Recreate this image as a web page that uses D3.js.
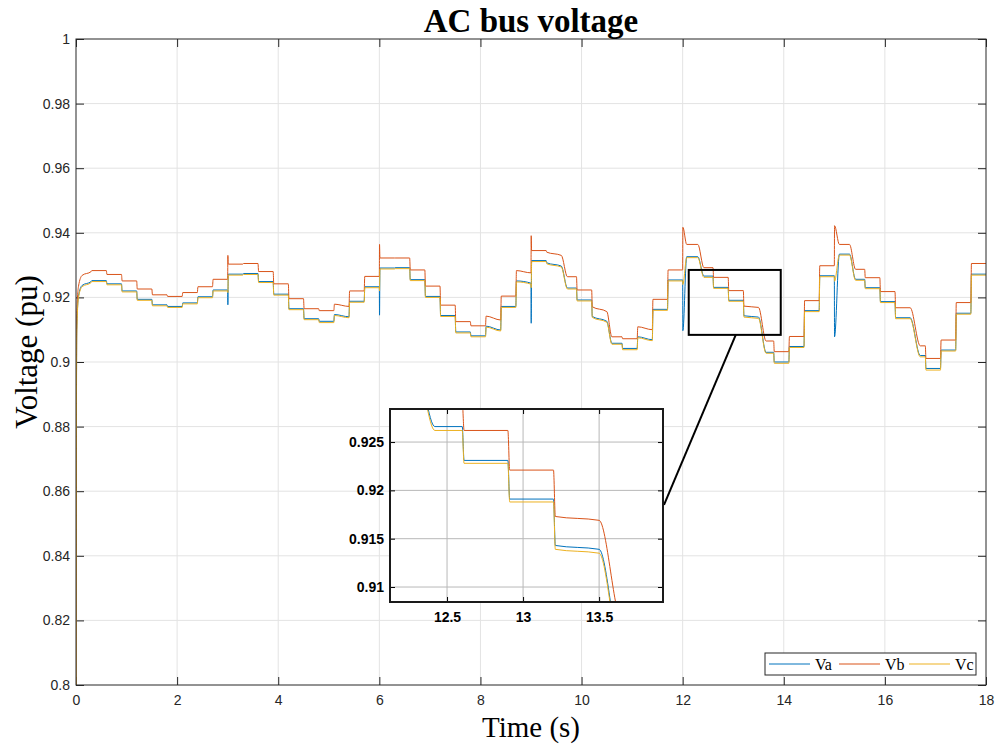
<!DOCTYPE html>
<html lang="en">
  <head>
    <meta charset="UTF-8" />
    <title>AC bus voltage</title>
    <script src="https://d3js.org/d3.v7.min.js"></script>
    <style>
      body {
        margin: 0;
        background: #fff;
      }
      .tick text {
        font-family: "Liberation Sans", Arial, sans-serif;
        font-size: 14px;
        fill: #262626;
      }
      .inset .tick text {
        font-weight: bold;
        fill: #000;
        font-size: 14px;
      }
      .serif {
        font-family: "Liberation Serif", "Times New Roman", serif;
        fill: #000;
      }
    </style>
  </head>
  <body>
    <script>
      // switching instants (s), one step every 0.3 s
      const stepT = [
        0, 0.3, 0.6, 0.9, 1.2, 1.5, 1.8, 2.1, 2.4, 2.7,
        3, 3.3, 3.6, 3.9, 4.2, 4.5, 4.8, 5.1, 5.4, 5.7,
        6, 6.3, 6.6, 6.9, 7.2, 7.5, 7.8, 8.1, 8.4, 8.7,
        9, 9.3, 9.6, 9.9, 10.2, 10.5, 10.8, 11.1, 11.4, 11.7,
        12, 12.3, 12.6, 12.9, 13.2, 13.5, 13.8, 14.1, 14.4, 14.7,
        15, 15.3, 15.6, 15.9, 16.2, 16.5, 16.8, 17.1, 17.4, 17.7,
      ];

      // settled level of each phase at the end of every step (pu)
      const vaLevel = [
        0.9249, 0.9252, 0.9242, 0.922, 0.9194, 0.9177, 0.9172, 0.9183, 0.9202, 0.9223,
        0.9272, 0.9274, 0.9249, 0.921, 0.9165, 0.9134, 0.9126, 0.914, 0.9188, 0.9233,
        0.9291, 0.9292, 0.9255, 0.9203, 0.9144, 0.9093, 0.9081, 0.9099, 0.9172, 0.9244,
        0.9314, 0.9297, 0.9229, 0.9192, 0.9126, 0.9058, 0.9042, 0.9069, 0.9163, 0.9254,
        0.9326, 0.9266, 0.9231, 0.9191, 0.9139, 0.903, 0.9, 0.9048, 0.9159, 0.9267,
        0.9334, 0.9256, 0.923, 0.9187, 0.9137, 0.902, 0.898, 0.9037, 0.9151, 0.9272,
      ];
      const vbLevel = [
        0.928, 0.9283, 0.9271, 0.9251, 0.9226, 0.9208, 0.9203, 0.9215, 0.9233, 0.9256,
        0.9303, 0.9305, 0.928, 0.9242, 0.9196, 0.9165, 0.9159, 0.9172, 0.922, 0.9265,
        0.9322, 0.9322, 0.9285, 0.9235, 0.9176, 0.9125, 0.9112, 0.913, 0.9204, 0.9276,
        0.9345, 0.933, 0.9264, 0.9223, 0.9156, 0.9078, 0.9072, 0.91, 0.9194, 0.9285,
        0.9364, 0.9292, 0.9262, 0.9221, 0.9169, 0.9065, 0.9032, 0.9079, 0.919, 0.9298,
        0.9364, 0.9287, 0.9261, 0.9218, 0.9168, 0.905, 0.9011, 0.9068, 0.9184, 0.9305,
      ];
      const vcLevel = [
        0.9246, 0.9249, 0.9239, 0.9217, 0.9191, 0.9174, 0.9169, 0.918, 0.9199, 0.922,
        0.9269, 0.9271, 0.9246, 0.9207, 0.9162, 0.9131, 0.9122, 0.9137, 0.9185, 0.923,
        0.9288, 0.9289, 0.9252, 0.92, 0.9141, 0.909, 0.9078, 0.9096, 0.9169, 0.9241,
        0.9311, 0.9294, 0.9226, 0.9189, 0.9123, 0.9055, 0.9038, 0.9066, 0.916, 0.9251,
        0.9323, 0.9262, 0.9228, 0.9188, 0.9135, 0.9027, 0.8996, 0.9045, 0.9156, 0.9264,
        0.9331, 0.9253, 0.9227, 0.9184, 0.9134, 0.9016, 0.8975, 0.9034, 0.9148, 0.9269,
      ];

      // droop inside a step (how much higher the step starts than it ends)
      const drift = [
        0, 0, 0, 0, 0, 0, 0, 0, 0, 0,
        0, 0, 0, 0, 0, 0, 0, 0.0007, 0, 0,
        0, 0, 0, 0, 0, 0, 0, 0.0012, 0, 0.0007,
        0, 0.001, 0, 0, 0.0015, 0, 0, 0.0009, 0, 0,
        0, 0, 0, 0, 0.0004, 0, 0, 0, 0, 0,
        0, 0, 0, 0, 0, 0, 0, 0, 0, 0,
      ];
      // time the voltage needs to reach the new step (s)
      const settle = [
        0.012, 0.012, 0.012, 0.012, 0.012, 0.012, 0.012, 0.012, 0.012, 0.012,
        0.012, 0.012, 0.012, 0.012, 0.012, 0.012, 0.012, 0.012, 0.012, 0.012,
        0.012, 0.012, 0.012, 0.012, 0.012, 0.012, 0.012, 0.012, 0.012, 0.012,
        0.012, 0.012, 0.12, 0.012, 0.012, 0.1, 0.012, 0.012, 0.012, 0.012,
        0.08, 0.12, 0.012, 0.012, 0.012, 0.15, 0.012, 0.012, 0.012, 0.012,
        0.1, 0.12, 0.012, 0.012, 0.012, 0.2, 0.012, 0.012, 0.012, 0.012,
      ];

      // switching spikes every 3 s
      const spikeStep = [10, 20, 30, 40, 50];
      const vaSpike = [0.9177, 0.9145, 0.912, 0.9097, 0.9078];
      const vbSpike = [0.933, 0.9364, 0.9391, 0.9417, 0.9422];
      const vcSpike = [0.9215, 0.922, 0.923, 0.924, 0.925];

      // start-up transient [t, pu]
      const vaRise = [[0, 0.8], [0.015, 0.91], [0.05, 0.9205], [0.12, 0.9237], [0.3, 0.9249]];
      const vbRise = [[0, 0.8], [0.015, 0.915], [0.05, 0.9235], [0.12, 0.9268], [0.3, 0.928]];
      const vcRise = [[0, 0.8], [0.015, 0.909], [0.05, 0.92], [0.12, 0.9233], [0.3, 0.9246]];

      const xTicks = [0, 2, 4, 6, 8, 10, 12, 14, 16, 18];
      const yTicks = [0.8, 0.82, 0.84, 0.86, 0.88, 0.9, 0.92, 0.94, 0.96, 0.98, 1];
      const insetXTicks = [12.5, 13, 13.5];
      const insetYTicks = [0.91, 0.915, 0.92, 0.925];
      const zoomWindow = { t: [12.12, 13.94], v: [0.9084, 0.9285] };

      const series = [
        { name: "Va", color: "#0072BD", level: vaLevel, spike: vaSpike, rise: vaRise },
        { name: "Vb", color: "#D95319", level: vbLevel, spike: vbSpike, rise: vbRise },
        { name: "Vc", color: "#EDB120", level: vcLevel, spike: vcSpike, rise: vcRise },
      ];

      function buildPoints(s) {
        const pts = s.rise.slice();
        for (let i = 1; i < stepT.length; i++) {
          const t = stepT[i];
          const tEnd = i < stepT.length - 1 ? stepT[i + 1] : 18;
          const k = spikeStep.indexOf(i);
          if (k >= 0) pts.push([t + 0.004, s.spike[k]]);
          pts.push([t + settle[i], s.level[i] + drift[i]]);
          pts.push([tEnd, s.level[i]]);
        }
        return pts;
      }
      series.forEach((s) => (s.points = buildPoints(s)));

      const width = 997,
        height = 744;
      const plot = { left: 76, top: 39, right: 986, bottom: 685 };

      const svg = d3
        .select("body")
        .append("svg")
        .attr("width", width)
        .attr("height", height)
        .style("display", "block");

      const x = d3.scaleLinear().domain([0, 18]).range([plot.left, plot.right]);
      const y = d3.scaleLinear().domain([0.8, 1]).range([plot.bottom, plot.top]);

      svg.append("defs")
        .append("clipPath")
        .attr("id", "clipMain")
        .append("rect")
        .attr("x", plot.left)
        .attr("y", plot.top)
        .attr("width", plot.right - plot.left)
        .attr("height", plot.bottom - plot.top);

      // grid
      const grid = svg.append("g").attr("stroke", "#e3e3e3").attr("stroke-width", 1);
      grid.selectAll(".gx")
        .data(xTicks.slice(1, -1))
        .enter()
        .append("line")
        .attr("x1", (d) => x(d))
        .attr("x2", (d) => x(d))
        .attr("y1", plot.top)
        .attr("y2", plot.bottom);
      grid.selectAll(".gy")
        .data(yTicks.slice(1, -1))
        .enter()
        .append("line")
        .attr("x1", plot.left)
        .attr("x2", plot.right)
        .attr("y1", (d) => y(d))
        .attr("y2", (d) => y(d));

      // axes with inward ticks
      const fmtY = (d) => String(+d.toFixed(3));
      function styleAxis(g) {
        g.select(".domain").remove();
        g.attr("font-size", 14).attr("font-family", "Liberation Sans, Arial, sans-serif");
        g.selectAll(".tick line").attr("stroke", "#262626");
      }
      svg.append("g")
        .attr("transform", `translate(0,${plot.bottom})`)
        .call(d3.axisBottom(x).tickValues(xTicks).tickSize(-8).tickPadding(10).tickFormat(fmtY))
        .call(styleAxis);
      svg.append("g")
        .attr("transform", `translate(0,${plot.top})`)
        .call(d3.axisTop(x).tickValues(xTicks).tickSize(-8).tickFormat(""))
        .call(styleAxis);
      svg.append("g")
        .attr("transform", `translate(${plot.left},0)`)
        .call(d3.axisLeft(y).tickValues(yTicks).tickSize(-8).tickPadding(6).tickFormat(fmtY))
        .call(styleAxis);
      svg.append("g")
        .attr("transform", `translate(${plot.right},0)`)
        .call(d3.axisRight(y).tickValues(yTicks).tickSize(-8).tickFormat(""))
        .call(styleAxis);

      // lines
      const line = d3
        .line()
        .x((d) => x(d[0]))
        .y((d) => y(d[1]))
        .curve(d3.curveMonotoneX);
      svg.append("g")
        .attr("clip-path", "url(#clipMain)")
        .selectAll("path")
        .data(series)
        .enter()
        .append("path")
        .attr("fill", "none")
        .attr("stroke", (d) => d.color)
        .attr("stroke-width", 1)
        .attr("d", (d) => line(d.points));

      svg.append("rect")
        .attr("x", plot.left)
        .attr("y", plot.top)
        .attr("width", plot.right - plot.left)
        .attr("height", plot.bottom - plot.top)
        .attr("fill", "none")
        .attr("stroke", "#262626")
        .attr("stroke-width", 1);

      // zoom box on main plot
      svg.append("rect")
        .attr("x", x(zoomWindow.t[0]))
        .attr("y", y(zoomWindow.v[1]))
        .attr("width", x(zoomWindow.t[1]) - x(zoomWindow.t[0]))
        .attr("height", y(zoomWindow.v[0]) - y(zoomWindow.v[1]))
        .attr("fill", "none")
        .attr("stroke", "#000")
        .attr("stroke-width", 2);

      // inset
      const inset = { left: 390, top: 409, right: 663, bottom: 602 };
      const xi = d3.scaleLinear().domain([12.125, 13.92]).range([inset.left, inset.right]);
      const yi = d3.scaleLinear().domain([0.90845, 0.92842]).range([inset.bottom, inset.top]);

      svg.append("line")
        .attr("x1", x(13.05))
        .attr("y1", y(zoomWindow.v[0]))
        .attr("x2", inset.right + 1)
        .attr("y2", yi(0.9185))
        .attr("stroke", "#000")
        .attr("stroke-width", 2);

      const ig = svg.append("g").attr("class", "inset");
      ig.append("rect")
        .attr("x", inset.left)
        .attr("y", inset.top)
        .attr("width", inset.right - inset.left)
        .attr("height", inset.bottom - inset.top)
        .attr("fill", "#fff");
      svg.select("defs")
        .append("clipPath")
        .attr("id", "clipInset")
        .append("rect")
        .attr("x", inset.left)
        .attr("y", inset.top)
        .attr("width", inset.right - inset.left)
        .attr("height", inset.bottom - inset.top);

      const igrid = ig.append("g").attr("stroke", "#b8b8b8").attr("stroke-width", 1);
      igrid.selectAll(".gx")
        .data(insetXTicks)
        .enter()
        .append("line")
        .attr("x1", (d) => xi(d))
        .attr("x2", (d) => xi(d))
        .attr("y1", inset.top)
        .attr("y2", inset.bottom);
      igrid.selectAll(".gy")
        .data(insetYTicks)
        .enter()
        .append("line")
        .attr("x1", inset.left)
        .attr("x2", inset.right)
        .attr("y1", (d) => yi(d))
        .attr("y2", (d) => yi(d));

      function styleInsetAxis(g) {
        g.select(".domain").remove();
        g.attr("font-size", 14).attr("font-family", "Liberation Sans, Arial, sans-serif");
        g.selectAll(".tick line").attr("stroke", "#000");
      }
      ig.append("g")
        .attr("transform", `translate(0,${inset.bottom})`)
        .call(d3.axisBottom(xi).tickValues(insetXTicks).tickSize(-5).tickPadding(10).tickFormat(fmtY))
        .call(styleInsetAxis);
      ig.append("g")
        .attr("transform", `translate(0,${inset.top})`)
        .call(d3.axisTop(xi).tickValues(insetXTicks).tickSize(-5).tickFormat(""))
        .call(styleInsetAxis);
      ig.append("g")
        .attr("transform", `translate(${inset.left},0)`)
        .call(d3.axisLeft(yi).tickValues(insetYTicks).tickSize(-5).tickPadding(6).tickFormat(fmtY))
        .call(styleInsetAxis);
      ig.append("g")
        .attr("transform", `translate(${inset.right},0)`)
        .call(d3.axisRight(yi).tickValues(insetYTicks).tickSize(-5).tickFormat(""))
        .call(styleInsetAxis);

      const lineInset = d3
        .line()
        .x((d) => xi(d[0]))
        .y((d) => yi(d[1]))
        .curve(d3.curveMonotoneX);
      ig.append("g")
        .attr("clip-path", "url(#clipInset)")
        .selectAll("path")
        .data(series)
        .enter()
        .append("path")
        .attr("fill", "none")
        .attr("stroke", (d) => d.color)
        .attr("stroke-width", 1)
        .attr("d", (d) => lineInset(d.points));

      ig.append("rect")
        .attr("x", inset.left)
        .attr("y", inset.top)
        .attr("width", inset.right - inset.left)
        .attr("height", inset.bottom - inset.top)
        .attr("fill", "none")
        .attr("stroke", "#1a1a1a")
        .attr("stroke-width", 2);

      // legend
      const lg = svg.append("g").attr("transform", "translate(765,653)");
      lg.append("rect")
        .attr("width", 211)
        .attr("height", 22)
        .attr("fill", "#fff")
        .attr("stroke", "#262626")
        .attr("stroke-width", 1);
      const items = lg
        .selectAll(".item")
        .data(series)
        .enter()
        .append("g")
        .attr("transform", (d, i) => `translate(${4 + i * 70},11)`);
      items.append("line")
        .attr("x1", 0)
        .attr("x2", 41)
        .attr("stroke", (d) => d.color)
        .attr("stroke-width", 1);
      items.append("text")
        .attr("class", "serif")
        .attr("x", 46)
        .attr("y", 5.5)
        .attr("font-size", 16)
        .text((d) => d.name);

      // titles
      svg.append("text")
        .attr("class", "serif")
        .attr("x", (plot.left + plot.right) / 2)
        .attr("y", 32)
        .attr("text-anchor", "middle")
        .attr("font-size", 33)
        .attr("font-weight", "bold")
        .text("AC bus voltage");
      svg.append("text")
        .attr("class", "serif")
        .attr("x", (plot.left + plot.right) / 2)
        .attr("y", 737)
        .attr("text-anchor", "middle")
        .attr("font-size", 29)
        .text("Time (s)");
      svg.append("text")
        .attr("class", "serif")
        .attr("transform", `translate(37,352) rotate(-90)`)
        .attr("text-anchor", "middle")
        .attr("font-size", 31)
        .text("Voltage (pu)");
    </script>
  </body>
</html>
